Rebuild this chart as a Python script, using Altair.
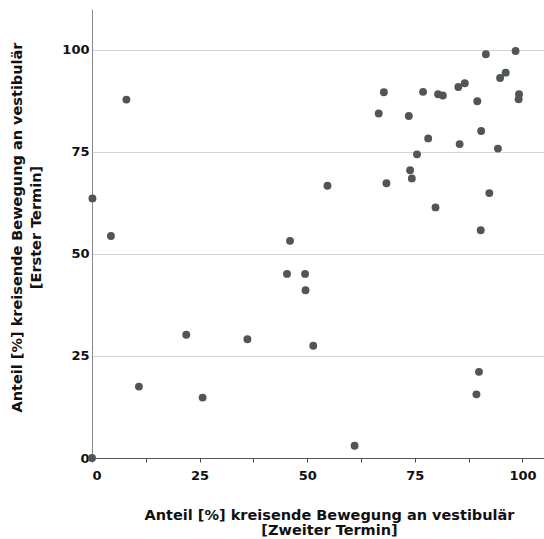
import altair as alt
import pandas as pd

# Anteil [%] kreisende Bewegung an vestibulär — Zweiter Termin (x) vs Erster Termin (y)
zweiter = [8.0, 0.1, 4.4, 46.0, 91.5, 98.4, 96.1, 94.8, 67.8, 76.9, 80.4, 81.5, 85.1, 86.6,
           89.5, 99.2, 99.1, 66.6, 73.6, 78.1, 90.4, 85.4, 94.3, 75.5, 73.9, 74.3, 54.7,
           68.4, 92.3, 79.8, 90.3, 45.3, 49.5, 49.6, 21.9, 36.1, 10.9, 25.7, 0.0, 51.4,
           89.9, 89.3, 61.0]
erster = [87.8, 63.6, 54.4, 53.2, 98.9, 99.7, 94.4, 93.1, 89.6, 89.7, 89.1, 88.8, 90.9, 91.8,
          87.4, 89.1, 87.9, 84.4, 83.8, 78.3, 80.1, 76.9, 75.8, 74.4, 70.5, 68.5, 66.7,
          67.3, 64.9, 61.4, 55.8, 45.1, 45.1, 41.1, 30.2, 29.1, 17.5, 14.8, 0.0, 27.5,
          21.1, 15.6, 3.0]

x_ticks = [0, 12.5, 25, 37.5, 50, 62.5, 75, 87.5, 100]
y_ticks = [0, 25, 50, 75, 100]
x_title = ["Anteil [%] kreisende Bewegung an vestibulär", "[Zweiter Termin]"]
y_title = ["Anteil [%] kreisende Bewegung an vestibulär", "[Erster Termin]"]

df = pd.DataFrame({"zweiter": zweiter, "erster": erster})

FONT = "DejaVu Sans"

chart = alt.Chart(df).mark_circle(size=62, color="#4f5653", opacity=1).encode(
    x=alt.X("zweiter:Q",
            scale=alt.Scale(domain=[0, 105], nice=False, zero=False),
            axis=alt.Axis(values=x_ticks, grid=False,
                          labelExpr="datum.value % 25 == 0 ? datum.label : ''",
                          labelFont=FONT, labelFontSize=13, labelFontWeight="bold",
                          labelColor="#111", labelPadding=7,
                          tickSize=4, tickColor="#444", domainColor="#555",
                          title=x_title, titleFont=FONT, titleFontSize=14.5,
                          titleFontWeight="bold", titleColor="#111",
                          titleX=237, titleY=50, titleAlign="center",
                          titleBaseline="top", titleLineHeight=15)),
    y=alt.Y("erster:Q",
            scale=alt.Scale(domain=[0, 110], nice=False, zero=False),
            axis=alt.Axis(values=y_ticks, grid=True, gridColor="#d4d4d4", gridWidth=1.2,
                          labelFont=FONT, labelFontSize=13, labelFontWeight="bold",
                          labelColor="#111", labelPadding=3, tickSize=0,
                          domainColor="#888",
                          title=y_title, titleFont=FONT, titleFontSize=14.5,
                          titleFontWeight="bold", titleColor="#111",
                          titleY=218, titlePadding=18, titleLineHeight=19)),
).properties(
    width=452, height=449,
    autosize=alt.AutoSizeParams(type="none"),
    padding={"left": 92, "top": 9, "right": 0, "bottom": 81},
).configure_view(stroke=None)

chart.save("out.html", embed_options={"renderer": "svg", "actions": False})
